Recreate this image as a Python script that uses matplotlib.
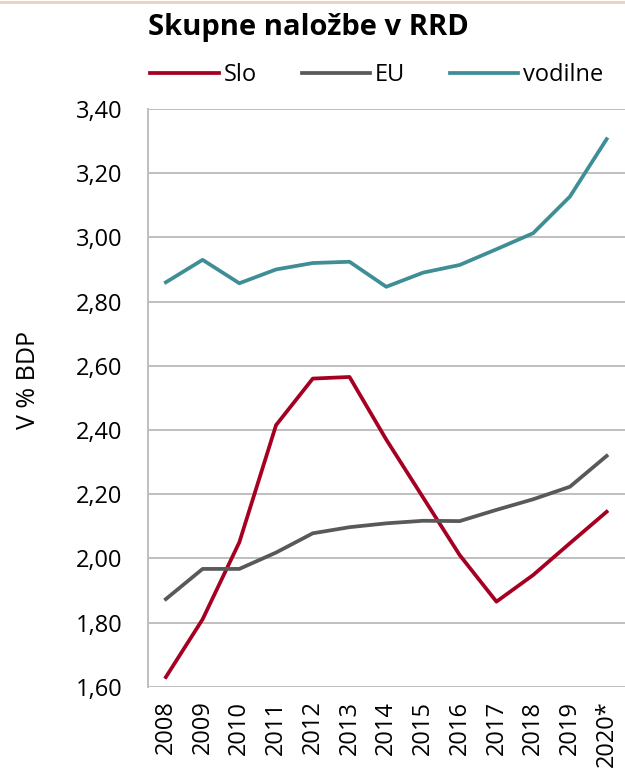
import numpy as np
import matplotlib.pyplot as plt

years = ['2008', '2009', '2010', '2011', '2012', '2013', '2014',
         '2015', '2016', '2017', '2018', '2019', '2020*']
slo = [1.63, 1.81, 2.05, 2.415, 2.56, 2.565, 2.37, 2.19, 2.01, 1.865, 1.948, 2.047, 2.145]
eu = [1.873, 1.967, 1.967, 2.018, 2.078, 2.097, 2.109, 2.117, 2.116, 2.151, 2.184, 2.223, 2.319]
vodilne = [2.86, 2.93, 2.857, 2.90, 2.92, 2.924, 2.846, 2.89, 2.914, 2.963, 3.013, 3.127, 3.306]
yticks = [1.6, 1.8, 2.0, 2.2, 2.4, 2.6, 2.8, 3.0, 3.2, 3.4]

plt.rcParams['font.family'] = ['Open Sans', 'DejaVu Sans']

fig = plt.figure(figsize=(6.25, 7.8), dpi=100)
ax = fig.add_axes([0.236, 0.1196, 0.764, 0.7407])

x = np.arange(len(years))
ax.plot(x, slo, color='#A50021', lw=2.7, label='Slo', solid_joinstyle='round')
ax.plot(x, eu, color='#595959', lw=2.7, label='EU', solid_joinstyle='round')
ax.plot(x, vodilne, color='#3F8E96', lw=2.7, label='vodilne', solid_joinstyle='round')

ax.set_xlim(-0.5, len(years) - 0.5)
ax.set_ylim(1.6, 3.4)
ax.set_yticks(yticks)
ax.set_yticklabels([f'{v:.2f}'.replace('.', ',') for v in yticks], fontsize=17)
ax.set_xticks(x)
ax.set_xticklabels(years, rotation=90, fontsize=17)
ax.tick_params(axis='y', length=0, pad=18)
ax.tick_params(axis='x', length=0, pad=10)
ax.yaxis.grid(True, color='#BFBFBF', lw=1.4)
ax.set_axisbelow(True)
for s in ['top', 'right', 'bottom']:
    ax.spines[s].set_visible(False)
ax.spines['left'].set_color('#BFBFBF')
ax.spines['left'].set_linewidth(1.4)

fig.text(0.045, 0.513, 'V % BDP', rotation=90, ha='center', va='center', fontsize=18)
fig.text(0.493, 0.965, 'Skupne naložbe v RRD', ha='center', va='center',
         fontsize=21, fontweight='bold')
fig.legend(loc='center', bbox_to_anchor=(0.603, 0.904), ncol=3, frameon=False,
           fontsize=17, handlelength=2.9, columnspacing=1.9, handletextpad=0.2)

fig.add_artist(plt.Line2D([0, 1], [0.998, 0.998], color='#E8D3BE', lw=2,
                          transform=fig.transFigure))

fig.savefig('out.png', dpi=100)
